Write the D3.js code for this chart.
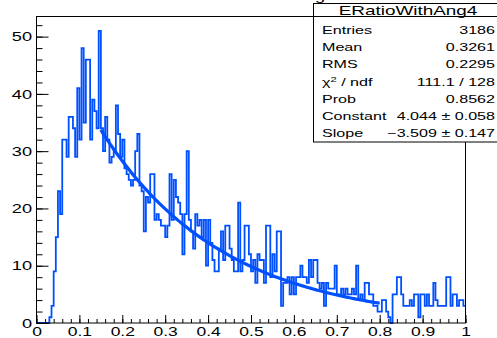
<!DOCTYPE html>
<meta charset="utf-8">
<head>
  <title>ERatioWithAng4</title>
</head>
<style>
body { margin: 0; background: #fff; }
svg { display: block; font-family: "Liberation Sans", Arial, sans-serif; }
.hist { fill: none; stroke: #0050ff; stroke-width: 1.8px; }
.fit { fill: none; stroke: #0050ff; stroke-width: 3.2px; }
.frame { fill: none; stroke: #000; stroke-width: 1px; }
.axis path { display: none; }
.axis line { stroke: #000; }
.stat { fill: #fff; stroke: #000; stroke-width: 1px; }
</style>
<body>
<svg width="497" height="338"></svg>
<script src="https://cdn.jsdelivr.net/npm/d3@7"></script>
<script>
// histogram: 200 bins from 0 to 1
var xMin = 0, xMax = 1, nBins = 200;
var counts = [
  0, 0, 0, 0, 0, 0, 1, 3, 9, 15,
  23, 19, 32, 32, 29, 36, 36, 34, 29, 41,
  32, 48, 35, 46, 46, 32, 39, 37, 34, 51,
  34, 30, 36, 32, 28, 29, 30, 38, 33, 29,
  32, 27, 26, 25, 24, 25, 30, 33, 24, 23,
  16, 22, 21, 26, 26, 18, 19, 18, 17, 17,
  15, 17, 26, 18, 25, 22, 21, 19, 12, 19,
  30, 18, 16, 13, 19, 17, 18, 15, 18, 10,
  18, 14, 11, 9, 9, 13, 16, 11, 17, 17,
  13, 11, 9, 9, 21, 9, 11, 17, 17, 12,
  9, 11, 7, 12, 11, 11, 7, 17, 17, 8,
  12, 9, 16, 16, 3, 7, 7, 8, 5, 8,
  5, 8, 8, 10, 8, 8, 7, 11, 8, 11,
  11, 7, 6, 7, 3, 7, 6, 6, 6, 10,
  5, 5, 6, 5, 6, 5, 5, 6, 5, 10,
  4, 5, 4, 7, 7, 5, 5, 3, 3, 2,
  2, 4, 4, 2, 1, 0, 5, 5, 8, 8,
  5, 3, 3, 3, 4, 3, 5, 5, 1, 5,
  5, 3, 5, 3, 3, 7, 4, 3, 3, 3,
  3, 8, 8, 3, 5, 5, 3, 4, 4, 3
];

// fit: expo, exp(Constant + Slope*x)
var fitParams = [4.044, -3.509];
var fitRange = [0.15, 0.8];

var xTicks = [0, 0.1, 0.2, 0.3, 0.4, 0.5, 0.6, 0.7, 0.8, 0.9, 1];
var yTicks = [0, 10, 20, 30, 40, 50];

var statTitle = "ERatioWithAng4";
var statLabels = ["Entries", "Mean", "RMS", "chi2", "Prob", "Constant", "Slope"];
var statValues = ["3186", "0.3261", "0.2295", "111.1 / 128", "0.8562",
                  "4.044 \u00b1 0.058", "\u22123.509 \u00b1 0.147"];

var sx = 1.4; // picture is stretched horizontally

var svg = d3.select("svg");
var x = d3.scaleLinear().domain([xMin, xMax]).range([36.5, 465.5]);
var y = d3.scaleLinear().domain([0, 53.6]).range([323, 16]);

var bw = (xMax - xMin) / nBins;

// step outline of the histogram
var pts = [];
counts.forEach(function(c, i) {
  pts.push([xMin + i * bw, c]);
  pts.push([xMin + (i + 1) * bw, c]);
});
var line = d3.line()
  .x(function(d) { return x(d[0]); })
  .y(function(d) { return y(d[1]); });

svg.append("path").attr("class", "hist").attr("d", line(pts));

var fitPts = d3.range(fitRange[0], fitRange[1] + 1e-9, 0.005).map(function(v) {
  return [v, Math.exp(fitParams[0] + fitParams[1] * v)];
});
svg.append("path").attr("class", "fit").attr("d", line(fitPts));

// axes, ticks pointing inward like ROOT
var minorX = d3.range(0, 1.0001, 0.02);
var minorY = d3.range(0, 53, 2);

svg.append("g").attr("class", "axis")
  .attr("transform", "translate(0,323)")
  .call(d3.axisBottom(x).tickValues(minorX).tickSize(-4).tickFormat(""));
var gx = svg.append("g").attr("class", "axis")
  .attr("transform", "translate(0,323)")
  .call(d3.axisBottom(x).tickValues(xTicks).tickSize(-8).tickPadding(4)
    .tickFormat(function(d) { return d3.format("")(+d.toFixed(1)); }));
gx.selectAll("text")
  .attr("fill", "#000").attr("font-size", "12.5px")
  .attr("transform", "scale(" + sx + ",1)");

svg.append("g").attr("class", "axis")
  .attr("transform", "translate(36.5,0)")
  .call(d3.axisLeft(y).tickValues(minorY).tickSize(-6).tickFormat(""));
var gy = svg.append("g").attr("class", "axis")
  .attr("transform", "translate(36.5,0)")
  .call(d3.axisLeft(y).tickValues(yTicks).tickSize(-12).tickPadding(3.2));
gy.selectAll("text")
  .attr("fill", "#000").attr("font-size", "13px")
  .attr("transform", "scale(" + sx + ",1)");

svg.append("rect").attr("class", "frame")
  .attr("x", 36.5).attr("y", 16.5).attr("width", 429).attr("height", 306.5);

// clipped histogram title at the very top
svg.append("text").attr("transform", "translate(315,0) scale(" + sx + ",1)")
  .attr("font-size", "13px").text("g");

// stat box
var box = svg.append("g");
box.append("rect").attr("class", "stat")
  .attr("x", 313.5).attr("y", 3.5).attr("width", 190).attr("height", 138.5);
box.append("line").attr("stroke", "#000")
  .attr("x1", 313.5).attr("x2", 497).attr("y1", 16.5).attr("y2", 16.5);
box.append("text")
  .attr("transform", "translate(408,14.5) scale(" + sx + ",1)")
  .attr("text-anchor", "middle").attr("font-size", "13.5px").text(statTitle);

var rowY = d3.scaleLinear().domain([0, 6]).range([34, 137]);
statLabels.forEach(function(lab, i) {
  var t = box.append("text")
    .attr("transform", "translate(322," + rowY(i) + ") scale(" + sx + ",1)")
    .attr("font-size", "11.5px");
  if (lab === "chi2") {
    t.append("tspan").text("\u03c7");
    t.append("tspan").attr("font-size", "8px").attr("dy", -4).text("2");
    t.append("tspan").attr("dy", 4).text(" / ndf");
  } else {
    t.text(lab);
  }
  box.append("text")
    .attr("transform", "translate(495," + rowY(i) + ") scale(" + sx + ",1)")
    .attr("text-anchor", "end").attr("font-size", "11.5px")
    .text(statValues[i]);
});
</script>
</body>
</html>
